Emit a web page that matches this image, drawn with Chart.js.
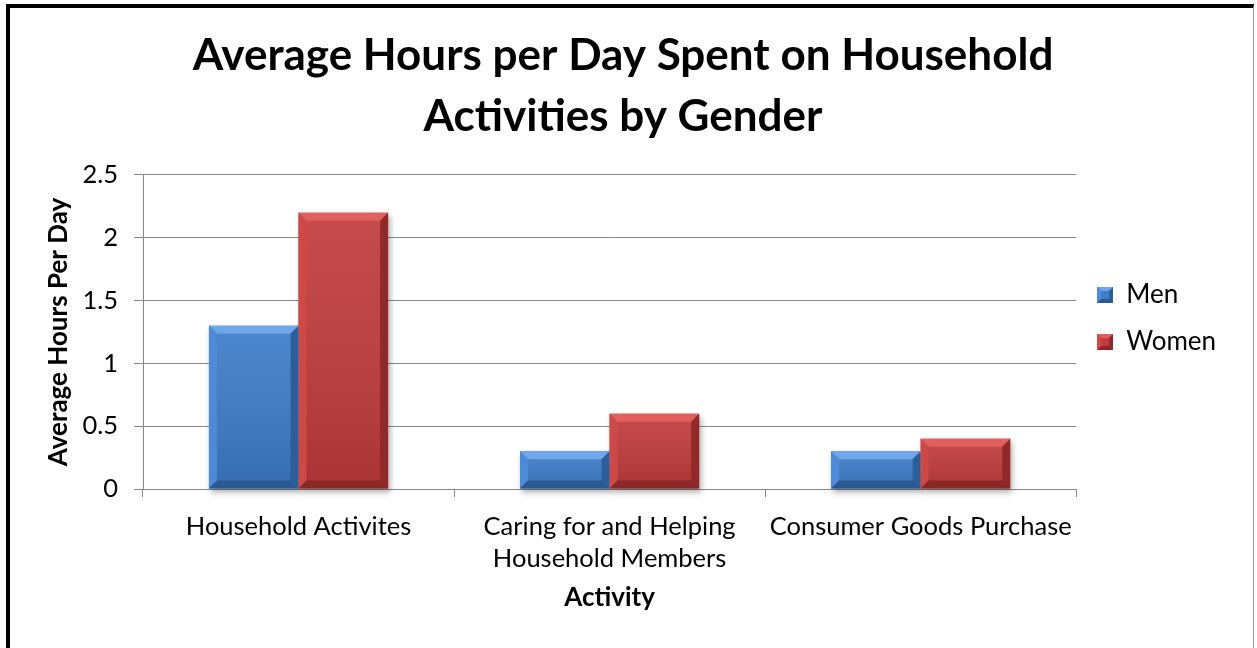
<!DOCTYPE html>
<html>
<head>
<meta charset="utf-8">
<script src="https://cdn.jsdelivr.net/npm/chart.js@4.4.1/dist/chart.umd.min.js"></script>
<style>
  html, body { margin: 0; padding: 0; background: #fff; }
  #frame {
    position: absolute; left: 6px; top: 4px;
    width: 1243px; height: 644px;
    border-left: 4px solid #000; border-top: 4px solid #000; border-right: 1px solid #999;
  }
  #chart { display: block; }
</style>
</head>
<body>
<div id="frame"><canvas id="chart" width="1243" height="640"></canvas></div>
<script>
// data
const categories = [
  'Household Activites',
  ['Caring for and Helping', 'Household Members'],
  'Consumer Goods Purchase'
];
const menHours = [1.3, 0.3, 0.3];
const womenHours = [2.2, 0.6, 0.4];
const yTicks = [0, 0.5, 1, 1.5, 2, 2.5];

const FONT = 'Lato, "Open Sans", sans-serif';
const GRID = '#878787';

const menShade = { face: '#3d7cc8', top: '#6ea6ea', left: '#4e8ad5', right: '#2d5e9c', bottom: '#2a5892' };
const womenShade = { face: '#c13b3c', top: '#e35f5e', left: '#cd4948', right: '#8f2a29', bottom: '#8b2727' };

function bevelBox(ctx, l, t, r, b, sh, e) {
  const poly = (pts, c) => {
    ctx.beginPath();
    ctx.moveTo(pts[0][0], pts[0][1]);
    for (let k = 1; k < pts.length; k++) ctx.lineTo(pts[k][0], pts[k][1]);
    ctx.closePath();
    ctx.fillStyle = c;
    ctx.fill();
  };
  poly([[l, t], [r, t], [r - e, t + e], [l + e, t + e]], sh.top);
  poly([[l, t], [l + e, t + e], [l + e, b - e], [l, b]], sh.left);
  poly([[r, t], [r, b], [r - e, b - e], [r - e, t + e]], sh.right);
  poly([[l, b], [l + e, b - e], [r - e, b - e], [r, b]], sh.bottom);
}

// small beveled square for the legend
function legendIcon(sh) {
  const c = document.createElement('canvas');
  c.width = 16; c.height = 16;
  const x = c.getContext('2d');
  x.fillStyle = sh.face;
  x.fillRect(0, 0, 16, 16);
  bevelBox(x, 0, 0, 16, 16, sh, 4);
  return c;
}

// Excel-like bevel: soft shadow under each bar, lighter top/left edges, darker right/bottom
const bevelPlugin = {
  id: 'bevel',
  beforeDatasetsDraw(chart) {
    const ctx = chart.ctx;
    ctx.save();
    ctx.shadowColor = 'rgba(0,0,0,0.35)';
    ctx.shadowBlur = 6;
    ctx.shadowOffsetX = 2;
    ctx.shadowOffsetY = 3;
    ctx.fillStyle = '#fff';
    chart.data.datasets.forEach((ds, i) => {
      chart.getDatasetMeta(i).data.forEach(bar => {
        const p = bar.getProps(['x', 'y', 'base', 'width'], true);
        ctx.fillRect(p.x - p.width / 2, p.y, p.width, p.base - p.y);
      });
    });
    ctx.restore();
  },
  afterDatasetsDraw(chart) {
    const ctx = chart.ctx;
    ctx.save();
    chart.data.datasets.forEach((ds, i) => {
      chart.getDatasetMeta(i).data.forEach(bar => {
        const p = bar.getProps(['x', 'y', 'base', 'width'], true);
        const l = p.x - p.width / 2, r = p.x + p.width / 2, t = p.y, b = p.base;
        const e = Math.min(8, (b - t) / 2, p.width / 2);
        const g = ctx.createLinearGradient(0, t, 0, b);
        g.addColorStop(0, 'rgba(255,255,255,0.08)');
        g.addColorStop(1, 'rgba(0,0,0,0.12)');
        ctx.fillStyle = g;
        ctx.fillRect(l, t, r - l, b - t);
        bevelBox(ctx, l, t, r, b, ds.bevel, e);
      });
    });
    ctx.restore();
  }
};

new Chart(document.getElementById('chart'), {
  type: 'bar',
  data: {
    labels: categories,
    datasets: [
      { label: 'Men', data: menHours, backgroundColor: menShade.face, bevel: menShade, icon: legendIcon(menShade) },
      { label: 'Women', data: womenHours, backgroundColor: womenShade.face, bevel: womenShade, icon: legendIcon(womenShade) }
    ]
  },
  options: {
    responsive: false,
    animation: false,
    layout: { padding: { left: 10, right: 27, bottom: 37, top: 0 } },
    datasets: {
      bar: { barPercentage: 1, categoryPercentage: 0.576, borderWidth: 0 }
    },
    plugins: {
      title: {
        display: true,
        text: ['Average Hours per Day Spent on Household', 'Activities by Gender'],
        color: '#000',
        font: { family: FONT, size: 44, weight: 'bold', lineHeight: 1.386 },
        padding: { top: 17.5, bottom: 27.5 }
      },
      legend: {
        position: 'right',
        title: { display: true, text: ' ', font: { size: 1 }, padding: 8.4 },
        labels: {
          color: '#000',
          font: { family: FONT, size: 26 },
          boxWidth: 16,
          boxHeight: 16,
          padding: 21,
          usePointStyle: true,
          generateLabels(chart) {
            return chart.data.datasets.map((ds, i) => ({
              text: ds.label,
              fontColor: '#000',
              pointStyle: ds.icon,
              fillStyle: ds.backgroundColor,
              strokeStyle: ds.backgroundColor,
              lineWidth: 0,
              hidden: !chart.isDatasetVisible(i),
              datasetIndex: i
            }));
          }
        }
      },
      tooltip: { enabled: false }
    },
    scales: {
      x: {
        afterFit(scale) { scale.height = 122; },
        grid: { drawOnChartArea: false, drawTicks: true, tickLength: 8, color: GRID },
        border: { color: GRID },
        ticks: {
          color: '#000',
          font: { family: FONT, size: 25.5, lineHeight: 1.24 },
          padding: 14,
          maxRotation: 0
        },
        title: {
          display: true,
          text: 'Activity',
          color: '#000',
          font: { family: FONT, size: 26, weight: 'bold', lineHeight: 1 },
          padding: { top: 0, bottom: 0 }
        }
      },
      y: {
        min: 0,
        max: 2.5,
        afterBuildTicks(scale) { scale.ticks = yTicks.map(v => ({ value: v })); },
        afterFit(scale) { scale.width = 123; },
        grid: { color: GRID, tickLength: 9 },
        border: { color: GRID },
        ticks: {
          color: '#000',
          font: { family: FONT, size: 25.5 },
          padding: 16,
          callback: v => String(v)
        },
        title: {
          display: true,
          text: 'Average Hours Per Day',
          color: '#000',
          font: { family: FONT, size: 26, weight: 'bold', lineHeight: 1 },
          padding: { top: 26, bottom: 0 }
        }
      }
    }
  },
  plugins: [bevelPlugin]
});
</script>
</body>
</html>
